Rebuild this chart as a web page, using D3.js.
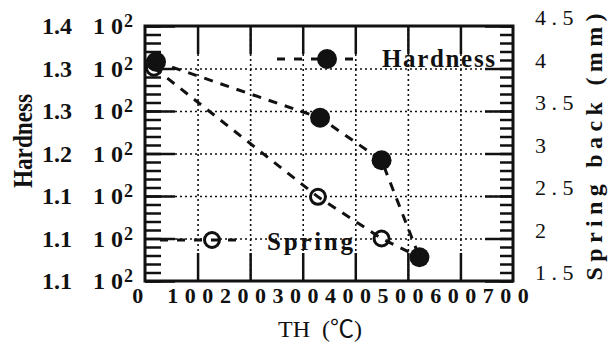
<!DOCTYPE html>
<html>
<head>
<meta charset="utf-8">
<script src="https://cdn.jsdelivr.net/npm/d3@7"></script>
<style>
body { margin: 0; background: #fff; }
svg text { font-family: "Liberation Serif", "Times New Roman", Times, "DejaVu Serif", serif; fill: #111; }
</style>
</head>
<body>
<div id="chart"></div>
<script>
// data
var hardTemp = [21, 333, 450, 522];
var hardness = [135.8, 129.2, 124.2, 112.8];
var springTemp = [17, 329, 450, 522];
var springBack = [4.01, 2.49, 2.0, 1.78];

var xTicks = [0, 100, 200, 300, 400, 500, 600, 700];
var xTickLabels = ["0", "100", "200", "300", "400", "500", "600", "700"];
var hardTicks = [140, 135, 130, 125, 120, 115, 110];
var hardTickLabels = ["1.4", "1.3", "1.3", "1.2", "1.1", "1.1", "1.1"];
var springTicks = [4.5, 4, 3.5, 3, 2.5, 2, 1.5];
var springTickLabels = ["4 . 5", "4", "3 . 5", "3", "2 . 5", "2", "1 . 5"];

var svgWidth = 613;
var svgHeight = 344;
var margin = {top: 26, right: 100, bottom: 63, left: 145};
var width = svgWidth - margin.left - margin.right;
var height = svgHeight - margin.top - margin.bottom;

var svg = d3.select("#chart")
  .append("svg")
  .attr("width", svgWidth)
  .attr("height", svgHeight);

var chartGroup = svg.append("g")
  .attr("transform", `translate(${margin.left}, ${margin.top})`);

// scales
var xScale = d3.scaleLinear().domain([0, 700]).range([0, width]);
var yLeft = d3.scaleLinear().domain([110, 140]).range([height, 0]);
var yRight = d3.scaleLinear().domain([1.5, 4.5]).range([height, 0]);

function styleTicks(g, w) {
  g.select(".domain").remove();
  g.selectAll("line").attr("stroke", "#111").attr("stroke-width", w);
}

// dotted grid
var innerX = xTicks.slice(1, -1);
var innerY = hardTicks.slice(1, -1);
chartGroup.append("g")
  .call(d3.axisBottom(xScale).tickValues(innerX).tickSize(-height).tickFormat(""))
  .attr("transform", `translate(0, ${height})`)
  .call(g => g.select(".domain").remove())
  .selectAll("line")
  .attr("stroke", "#111").attr("stroke-width", 1.6).attr("stroke-dasharray", "2,3");
chartGroup.append("g")
  .call(d3.axisLeft(yLeft).tickValues(innerY).tickSize(-width).tickFormat(""))
  .call(g => g.select(".domain").remove())
  .selectAll("line")
  .attr("stroke", "#111").attr("stroke-width", 1.6).attr("stroke-dasharray", "2,3");

// ticks pointing into the frame
chartGroup.append("g")
  .call(d3.axisTop(xScale).tickValues(innerX).tickSize(-28).tickFormat(""))
  .call(g => styleTicks(g, 2.5));
chartGroup.append("g")
  .attr("transform", `translate(0, ${height})`)
  .call(d3.axisBottom(xScale).tickValues(innerX).tickSize(-28).tickFormat(""))
  .call(g => styleTicks(g, 2.5));

chartGroup.append("g")
  .call(d3.axisLeft(yLeft).tickValues(d3.range(110, 140.5, 1)).tickSize(-16).tickFormat(""))
  .call(g => styleTicks(g, 2.5));
chartGroup.append("g")
  .call(d3.axisLeft(yLeft).tickValues(hardTicks).tickSize(-30).tickFormat(""))
  .call(g => styleTicks(g, 2.5));

chartGroup.append("g")
  .attr("transform", `translate(${width}, 0)`)
  .call(d3.axisRight(yRight).tickValues(d3.range(15, 45.5, 1).map(d => d / 10)).tickSize(-13).tickFormat(""))
  .call(g => styleTicks(g, 2.5));
chartGroup.append("g")
  .attr("transform", `translate(${width}, 0)`)
  .call(d3.axisRight(yRight).tickValues(springTicks).tickSize(-28).tickFormat(""))
  .call(g => styleTicks(g, 2.5));

// frame
chartGroup.append("rect")
  .attr("width", width).attr("height", height)
  .attr("fill", "none").attr("stroke", "#111").attr("stroke-width", 3);

// tick labels
chartGroup.selectAll(".xlab")
  .data(xTicks)
  .enter()
  .append("text")
  .attr("x", d => xScale(d) - 4)
  .attr("y", height + 22)
  .attr("text-anchor", "middle")
  .style("font-size", "22px")
  .style("font-weight", "bold")
  .style("letter-spacing", "6.5px")
  .text((d, i) => xTickLabels[i]);

var leftLab = chartGroup.selectAll(".ylab")
  .data(hardTicks)
  .enter()
  .append("g")
  .attr("transform", d => `translate(0, ${yLeft(d)})`)
  .style("font-weight", "bold");
leftLab.append("text")
  .attr("x", -103).attr("y", 8)
  .style("font-size", "24px")
  .text((d, i) => hardTickLabels[i]);
leftLab.append("text")
  .attr("x", -52).attr("y", 8)
  .style("font-size", "24px")
  .style("white-space", "pre")
  .text("1 0");
leftLab.append("text")
  .attr("x", -21).attr("y", 1)
  .style("font-size", "18px")
  .text("2");

chartGroup.selectAll(".rlab")
  .data(springTicks)
  .enter()
  .append("text")
  .attr("x", width + 22)
  .attr("y", d => yRight(d) - 1)
  .style("font-size", "22px")
  .style("white-space", "pre")
  .text((d, i) => springTickLabels[i]);

// axis titles
svg.append("text")
  .attr("transform", "translate(32, 141) rotate(-90)")
  .attr("text-anchor", "middle")
  .attr("textLength", 94)
  .attr("lengthAdjust", "spacingAndGlyphs")
  .style("font-size", "27px")
  .style("font-weight", "bold")
  .text("Hardness");

svg.append("text")
  .attr("transform", "translate(602, 147) rotate(-90)")
  .attr("text-anchor", "middle")
  .attr("textLength", 267)
  .attr("lengthAdjust", "spacing")
  .style("font-size", "24px")
  .style("font-weight", "bold")
  .text("Spring back (mm)");

var xTitle = svg.append("text")
  .attr("x", 278).attr("y", 337)
  .style("font-size", "24px")
  .style("white-space", "pre");
xTitle.append("tspan").text("TH  (");
xTitle.append("tspan").style("font-family", "'Noto Sans CJK JP', 'Noto Sans CJK SC', sans-serif").text("℃");
xTitle.append("tspan").text(")");

// series
var hardData = hardTemp.map((t, i) => ({t: t, v: hardness[i]}));
var springData = springTemp.map((t, i) => ({t: t, v: springBack[i]}));

var dash = "9,8";

chartGroup.selectAll(".spt")
  .data(springData)
  .enter()
  .append("circle")
  .attr("cx", d => xScale(d.t))
  .attr("cy", d => yRight(d.v))
  .attr("r", 7.5)
  .attr("fill", "#fff")
  .attr("stroke", "#111")
  .attr("stroke-width", 3);

chartGroup.selectAll(".hpt")
  .data(hardData)
  .enter()
  .append("circle")
  .attr("cx", d => xScale(d.t))
  .attr("cy", d => yLeft(d.v))
  .attr("r", 10)
  .attr("fill", "#111");

chartGroup.append("path")
  .datum(hardData)
  .attr("fill", "none")
  .attr("stroke", "#111")
  .attr("stroke-width", 3)
  .attr("stroke-dasharray", dash)
  .attr("d", d3.line().x(d => xScale(d.t)).y(d => yLeft(d.v)));

chartGroup.append("path")
  .datum(springData)
  .attr("fill", "none")
  .attr("stroke", "#111")
  .attr("stroke-width", 3)
  .attr("stroke-dasharray", dash)
  .attr("d", d3.line().x(d => xScale(d.t)).y(d => yRight(d.v)));

// legends
var legH = svg.append("g");
legH.append("line")
  .attr("x1", 277).attr("x2", 357).attr("y1", 59).attr("y2", 59)
  .attr("stroke", "#111").attr("stroke-width", 3).attr("stroke-dasharray", "8,9");
legH.append("circle")
  .attr("cx", 327).attr("cy", 59).attr("r", 10).attr("fill", "#111");
legH.append("text")
  .attr("x", 382).attr("y", 67)
  .attr("textLength", 113)
  .attr("lengthAdjust", "spacing")
  .style("font-size", "25px")
  .style("font-weight", "bold")
  .text("Hardness");

var legS = svg.append("g");
legS.append("circle")
  .attr("cx", 212).attr("cy", 240).attr("r", 7.5)
  .attr("fill", "#fff").attr("stroke", "#111").attr("stroke-width", 3);
legS.append("line")
  .attr("x1", 160).attr("x2", 238).attr("y1", 240).attr("y2", 240)
  .attr("stroke", "#111").attr("stroke-width", 3).attr("stroke-dasharray", "8,9");
legS.append("text")
  .attr("x", 267).attr("y", 250)
  .attr("textLength", 86)
  .attr("lengthAdjust", "spacing")
  .style("font-size", "25px")
  .style("font-weight", "bold")
  .text("Spring");
</script>
</body>
</html>
